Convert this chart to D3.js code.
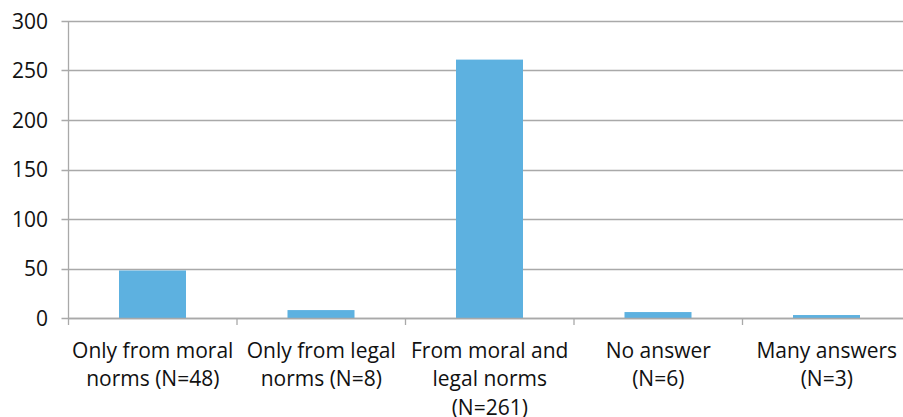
<!DOCTYPE html>
<html>
<head>
<meta charset="utf-8">
<script src="https://cdn.jsdelivr.net/npm/d3@7"></script>
<style>
  body { margin: 0; background: #fff; }
  svg text { font-family: "Open Sans", "Noto Sans", sans-serif; fill: #111; }
</style>
</head>
<body>
<svg id="chart" width="903" height="417"></svg>
<script>
// chart data
const categories = [
  ["Only from moral", "norms (N=48)"],
  ["Only from legal", "norms (N=8)"],
  ["From moral and", "legal norms", "(N=261)"],
  ["No answer", "(N=6)"],
  ["Many answers", "(N=3)"]
];
const counts = [48, 8, 261, 6, 3];
const yTicks = [0, 50, 100, 150, 200, 250, 300];

const svg = d3.select("#chart");
// plot area (right edge runs past the window, like the reference crop)
const plotL = 68.5, plotR = 911, plotT = 21, plotB = 318;

const x = d3.scaleBand()
  .domain(d3.range(categories.length))
  .range([plotL, plotR]);
const step = x.step();

const y = d3.scaleLinear().domain([0, 300]).range([plotB, plotT]);

// gridlines
svg.append("g")
  .selectAll("line")
  .data(yTicks)
  .join("line")
  .attr("x1", plotL - 7)
  .attr("x2", plotR)
  .attr("y1", d => Math.round(y(d)) + 0.5)
  .attr("y2", d => Math.round(y(d)) + 0.5)
  .attr("stroke", "#a9a9a9")
  .attr("stroke-width", 1.3);

// y labels
svg.append("g")
  .selectAll("text")
  .data(yTicks)
  .join("text")
  .attr("x", 48)
  .attr("y", d => y(d))
  .attr("dy", "0.36em")
  .attr("text-anchor", "end")
  .attr("font-size", 21)
  .text(d => d);

// bars
svg.append("g")
  .selectAll("rect")
  .data(counts)
  .join("rect")
  .attr("x", (d, i) => x(i) + 50.5)
  .attr("width", 67)
  .attr("y", d => y(d))
  .attr("height", d => y(0) - y(d))
  .attr("fill", "#5db1e0");

// y axis line
svg.append("line")
  .attr("x1", plotL).attr("x2", plotL)
  .attr("y1", plotT).attr("y2", plotB + 7)
  .attr("stroke", "#a9a9a9").attr("stroke-width", 1.3);

// x axis line + ticks
svg.append("line")
  .attr("x1", plotL).attr("x2", plotR)
  .attr("y1", plotB + 0.5).attr("y2", plotB + 0.5)
  .attr("stroke", "#a9a9a9").attr("stroke-width", 1.3);

svg.append("g")
  .selectAll("line")
  .data(d3.range(1, categories.length))
  .join("line")
  .attr("x1", i => x(i))
  .attr("x2", i => x(i))
  .attr("y1", plotB)
  .attr("y2", plotB + 7)
  .attr("stroke", "#a9a9a9").attr("stroke-width", 1.3);

// category labels
const lab = svg.append("g")
  .selectAll("text")
  .data(categories)
  .join("text")
  .attr("x", (d, i) => x(i) + step / 2)
  .attr("y", 350)
  .attr("text-anchor", "middle")
  .attr("font-size", 21);

lab.selectAll("tspan")
  .data(d => d)
  .join("tspan")
  .attr("x", function () { return d3.select(this.parentNode).attr("x"); })
  .attr("dy", (d, j) => j === 0 ? "0.36em" : 28.5)
  .text(d => d);
</script>
</body>
</html>
